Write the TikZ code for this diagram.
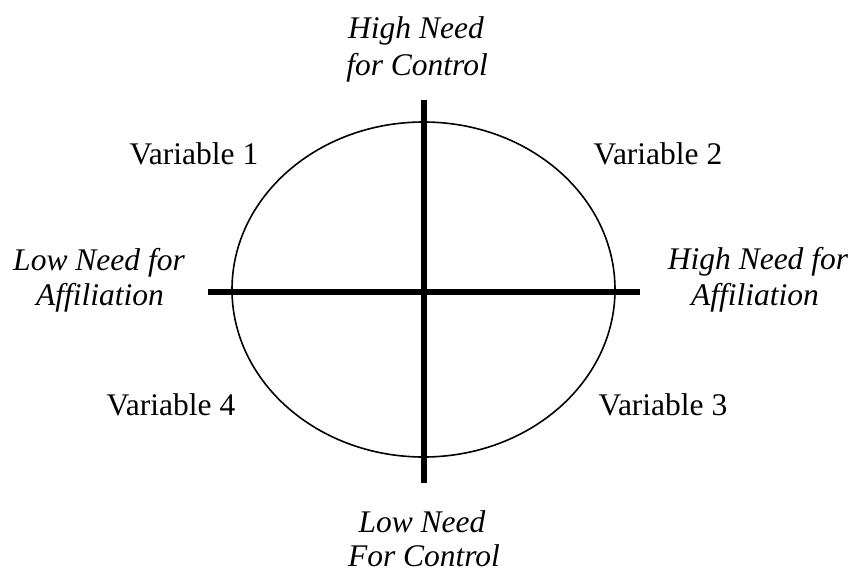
\documentclass[tikz,border=0pt]{standalone}
\usepackage{fontspec}
\setmainfont{Liberation Serif}
\begin{document}
\begin{tikzpicture}[x=1pt,y=-1pt,
  lbl/.style={anchor=base,inner sep=0pt,font=\fontsize{31.5}{37}\selectfont},
  ilbl/.style={lbl,font=\fontsize{31.5}{37}\selectfont\itshape},
  axis/.style={line width=6pt},
  ring/.style={line width=1.6pt}]
\useasboundingbox (0,0) rectangle (854,574);
\draw[ring] (423.5,289.5) ellipse [x radius=191.5, y radius=167.5];
\coordinate (top) at (424,100);
\coordinate (bot) at (424,483);
\coordinate (lft) at (208,292);
\coordinate (rgt) at (640,292);
\draw[axis] (top) -- (bot);
\draw[axis] (lft) -- (rgt);
\node[ilbl] (hc1) at (416,38) {High Need};
\node[ilbl] (hc2) at (417,75) {for Control};
\node[ilbl] (la1) at (99,270) {Low Need for};
\node[ilbl] (la2) at (100,305) {Affiliation};
\node[ilbl] (ha1) at (758,269) {High Need for};
\node[ilbl] (ha2) at (755,305) {Affiliation};
\node[ilbl] (lc1) at (422,532) {Low Need};
\node[ilbl] (lc2) at (424,566) {For Control};
\node[lbl] (v1) at (194,164) {Variable 1};
\node[lbl] (v2) at (658,164) {Variable 2};
\node[lbl] (v4) at (171,415) {Variable 4};
\node[lbl] (v3) at (663,415) {Variable 3};
\end{tikzpicture}
\end{document}
